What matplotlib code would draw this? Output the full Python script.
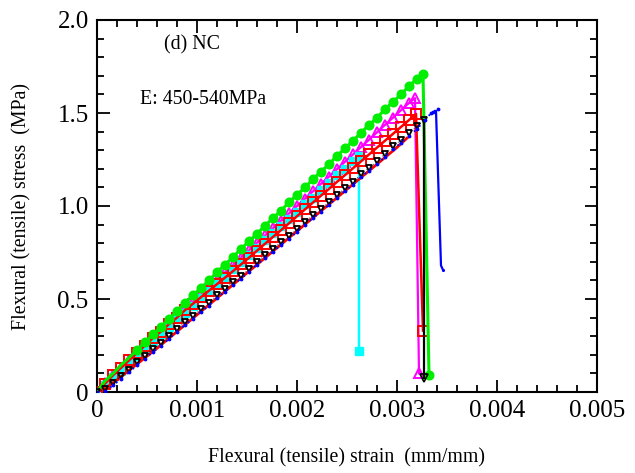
import matplotlib
matplotlib.use("Agg")
import matplotlib.pyplot as plt
from matplotlib.ticker import MultipleLocator

plt.rcParams['font.family'] = ['Liberation Serif', 'DejaVu Serif']

# ---------------- data (strain in mm/mm, stress in MPa) ----------------
green_strain = [0.0, 0.00008, 0.00016, 0.00024, 0.00032, 0.0004, 0.00048, 0.00056, 0.00064, 0.00072,
                0.0008, 0.00088, 0.00096, 0.00104, 0.00112, 0.0012, 0.00128, 0.00136, 0.00144, 0.00152,
                0.0016, 0.00168, 0.00176, 0.00184, 0.00192, 0.002, 0.00208, 0.00216, 0.00224, 0.00232,
                0.0024, 0.00248, 0.00256, 0.00264, 0.00272, 0.0028, 0.00288, 0.00296, 0.00304, 0.00312,
                0.0032, 0.00326, 0.00332]
green_stress = [0.0, 0.06, 0.10, 0.145, 0.185, 0.225, 0.27, 0.31, 0.35, 0.395,
                0.435, 0.48, 0.52, 0.56, 0.60, 0.645, 0.685, 0.725, 0.77, 0.81,
                0.85, 0.895, 0.935, 0.975, 1.02, 1.06, 1.10, 1.145, 1.185, 1.225,
                1.27, 1.31, 1.35, 1.395, 1.435, 1.475, 1.52, 1.56, 1.60, 1.645,
                1.685, 1.71, 0.09]

magenta_strain = [0.0, 0.00008, 0.00016, 0.00024, 0.00032, 0.0004, 0.00048, 0.00056, 0.00064, 0.00072,
                  0.0008, 0.00088, 0.00096, 0.00104, 0.00112, 0.0012, 0.00128, 0.00136, 0.00144, 0.00152,
                  0.0016, 0.00168, 0.00176, 0.00184, 0.00192, 0.002, 0.00208, 0.00216, 0.00224, 0.00232,
                  0.0024, 0.00248, 0.00256, 0.00264, 0.00272, 0.0028, 0.00288, 0.00296, 0.00304, 0.00312,
                  0.00318, 0.00322]
magenta_stress = [0.0, 0.05, 0.09, 0.13, 0.17, 0.21, 0.25, 0.29, 0.327, 0.366,
                  0.406, 0.446, 0.485, 0.525, 0.564, 0.604, 0.644, 0.683, 0.723, 0.762,
                  0.802, 0.842, 0.881, 0.921, 0.96, 1.00, 1.04, 1.079, 1.119, 1.158,
                  1.198, 1.238, 1.277, 1.317, 1.356, 1.396, 1.436, 1.475, 1.515, 1.554,
                  1.58, 0.10]

cyan_strain = [0.0, 0.00008, 0.00016, 0.00024, 0.00032, 0.0004, 0.00048, 0.00056, 0.00064, 0.00072,
               0.0008, 0.00088, 0.00096, 0.00104, 0.00112, 0.0012, 0.00128, 0.00136, 0.00144, 0.00152,
               0.0016, 0.00168, 0.00176, 0.00184, 0.00192, 0.002, 0.00208, 0.00216, 0.00224, 0.00232,
               0.0024, 0.00248, 0.00256, 0.00262, 0.00262]
cyan_stress = [0.0, 0.04, 0.08, 0.115, 0.155, 0.195, 0.235, 0.27, 0.31, 0.35,
               0.39, 0.425, 0.465, 0.505, 0.545, 0.58, 0.62, 0.66, 0.70, 0.735,
               0.775, 0.815, 0.855, 0.89, 0.93, 0.97, 1.01, 1.045, 1.085, 1.125,
               1.165, 1.20, 1.24, 1.27, 0.22]

red_strain = [0.0, 0.00008, 0.00016, 0.00024, 0.00032, 0.0004, 0.00048, 0.00056, 0.00064, 0.00072,
              0.0008, 0.00088, 0.00096, 0.00104, 0.00112, 0.0012, 0.00128, 0.00136, 0.00144, 0.00152,
              0.0016, 0.00168, 0.00176, 0.00184, 0.00192, 0.002, 0.00208, 0.00216, 0.00224, 0.00232,
              0.0024, 0.00248, 0.00256, 0.00264, 0.00272, 0.0028, 0.00288, 0.00296, 0.00304, 0.00312,
              0.00319, 0.00326]
red_stress = [0.0, 0.045, 0.09, 0.13, 0.17, 0.21, 0.25, 0.29, 0.325, 0.365,
              0.40, 0.44, 0.475, 0.51, 0.545, 0.58, 0.615, 0.65, 0.686, 0.722,
              0.76, 0.797, 0.834, 0.87, 0.907, 0.945, 0.982, 1.019, 1.056, 1.092,
              1.13, 1.166, 1.203, 1.24, 1.277, 1.314, 1.351, 1.388, 1.425, 1.462,
              1.495, 0.33]

red2_strain = [0.00003, 0.0002, 0.0004, 0.0006, 0.0008, 0.001, 0.0012, 0.0014, 0.0016, 0.0018,
               0.002, 0.0022, 0.0024, 0.0026, 0.0028, 0.003, 0.0031]
red2_stress = [0.0, 0.065, 0.15, 0.235, 0.325, 0.415, 0.505, 0.595, 0.685, 0.775,
               0.865, 0.955, 1.045, 1.135, 1.225, 1.315, 1.365]

black_strain = [0.0, 0.00008, 0.00016, 0.00024, 0.00032, 0.0004, 0.00048, 0.00056, 0.00064, 0.00072,
                0.0008, 0.00088, 0.00096, 0.00104, 0.00112, 0.0012, 0.00128, 0.00136, 0.00144, 0.00152,
                0.0016, 0.00168, 0.00176, 0.00184, 0.00192, 0.002, 0.00208, 0.00216, 0.00224, 0.00232,
                0.0024, 0.00248, 0.00256, 0.00264, 0.00272, 0.0028, 0.00288, 0.00296, 0.00304, 0.00312,
                0.0032, 0.00327]
black_stress = [0.0, 0.015, 0.05, 0.085, 0.12, 0.16, 0.195, 0.23, 0.265, 0.30,
                0.34, 0.375, 0.41, 0.445, 0.48, 0.52, 0.555, 0.59, 0.625, 0.66,
                0.70, 0.735, 0.77, 0.805, 0.84, 0.875, 0.915, 0.95, 0.985, 1.02,
                1.06, 1.095, 1.13, 1.17, 1.205, 1.24, 1.28, 1.32, 1.355, 1.39,
                1.43, 1.46]
black_drop_strain = [0.00327, 0.00327]
black_drop_stress = [1.46, 0.075]

blue_strain = [0.0, 0.00008, 0.00016, 0.00024, 0.00032, 0.0004, 0.00048, 0.00056, 0.00064, 0.00072,
               0.0008, 0.00088, 0.00096, 0.00104, 0.00112, 0.0012, 0.00128, 0.00136, 0.00144, 0.00152,
               0.0016, 0.00168, 0.00176, 0.00184, 0.00192, 0.002, 0.00208, 0.00216, 0.00224, 0.00232,
               0.0024, 0.00248, 0.00256, 0.00264, 0.00272, 0.0028, 0.00288, 0.00296, 0.00304, 0.00312,
               0.0032, 0.00328, 0.00334, 0.00336, 0.003405]
blue_stress = [0.0, 0.005, 0.035, 0.07, 0.105, 0.145, 0.18, 0.215, 0.25, 0.285,
               0.325, 0.36, 0.395, 0.43, 0.465, 0.505, 0.54, 0.575, 0.61, 0.645,
               0.685, 0.72, 0.755, 0.79, 0.825, 0.86, 0.90, 0.935, 0.97, 1.005,
               1.045, 1.08, 1.115, 1.155, 1.19, 1.225, 1.265, 1.305, 1.34, 1.375,
               1.415, 1.46, 1.50, 1.507, 1.52]
blue_drop_strain = [0.00339, 0.00344, 0.00346]
blue_drop_stress = [1.51, 0.68, 0.656]

x_ticks = [0, 0.001, 0.002, 0.003, 0.004, 0.005]
x_ticklabels = ['0', '0.001', '0.002', '0.003', '0.004', '0.005']
y_ticks = [0, 0.5, 1.0, 1.5, 2.0]
y_ticklabels = ['0', '0.5', '1.0', '1.5', '2.0']

# ---------------- figure ----------------
fig = plt.figure(figsize=(6.35, 4.73), dpi=100)
ax = fig.add_axes([97/635, 81/473, 500/635, 372/473])

ax.plot(magenta_strain, magenta_stress, color='#ff00ff', lw=1.6, marker='^', ms=7,
        mfc='none', mec='#ff00ff', mew=1.4, zorder=3)
ax.plot(cyan_strain, cyan_stress, color='#00ffff', lw=1.8, marker='s', ms=6,
        mfc='#00ffff', mec='#00ffff', zorder=4)
ax.plot(red_strain, red_stress, color='#ff0000', lw=1.8, marker='s', ms=7,
        mfc='none', mec='#ff0000', mew=1.4, zorder=5)
ax.plot(green_strain, green_stress, color='#00ee00', lw=2.2, marker='o', ms=6.2,
        mfc='#00ee00', mec='#00ee00', markevery=slice(5, None), zorder=6)
ax.plot(red2_strain, red2_stress, color='#ff0000', lw=2.0, zorder=6)
ax.plot(black_strain, black_stress, color='black', lw=0.6, ls=(0, (1, 4)), marker='v', ms=4,
        mfc='none', mec='black', mew=1.3, zorder=7)
ax.plot(black_drop_strain, black_drop_stress, color='black', lw=1.6, marker='v', ms=6,
        mfc='none', mec='black', mew=1.2, markevery=[1], zorder=7)
ax.plot(blue_strain, blue_stress, color='#0000ff', lw=1.3, ls=(0, (1, 3)),
        marker='.', ms=3.5, zorder=8)
ax.plot(blue_drop_strain, blue_drop_stress, color='#0000ff', lw=1.6,
        marker='.', ms=2.5, markevery=[2], zorder=8)

ax.set_xlim(0, 0.005)
ax.set_ylim(0, 2.0)
ax.set_xticks(x_ticks)
ax.set_xticklabels(x_ticklabels)
ax.set_yticks(y_ticks)
ax.set_yticklabels(y_ticklabels)
ax.xaxis.set_minor_locator(MultipleLocator(0.0002))
ax.yaxis.set_minor_locator(MultipleLocator(0.1))
ax.tick_params(which='both', direction='in', top=True, right=True, width=1.3)
ax.tick_params(which='major', length=9, labelsize=18, pad=6)
ax.tick_params(which='minor', length=5)
for s in ax.spines.values():
    s.set_linewidth(1.5)

ax.set_xlabel('Flexural (tensile) strain  (mm/mm)', fontsize=14.3)
ax.set_ylabel('Flexural (tensile) stress  (MPa)', fontsize=14.3)
ax.xaxis.set_label_coords(0.5, -(458 - 392) / 372)
ax.xaxis.label.set_va('center')
ax.yaxis.set_label_coords((22 - 97) / 500, 0.5)
ax.yaxis.label.set_va('center')

ax.text(0.00095, 1.866, '(d) NC', fontsize=14.3, ha='center', va='center')
ax.text(0.00043, 1.57, 'E: 450-540MPa', fontsize=14.3, ha='left', va='center')

fig.savefig('out.png', dpi=100)
